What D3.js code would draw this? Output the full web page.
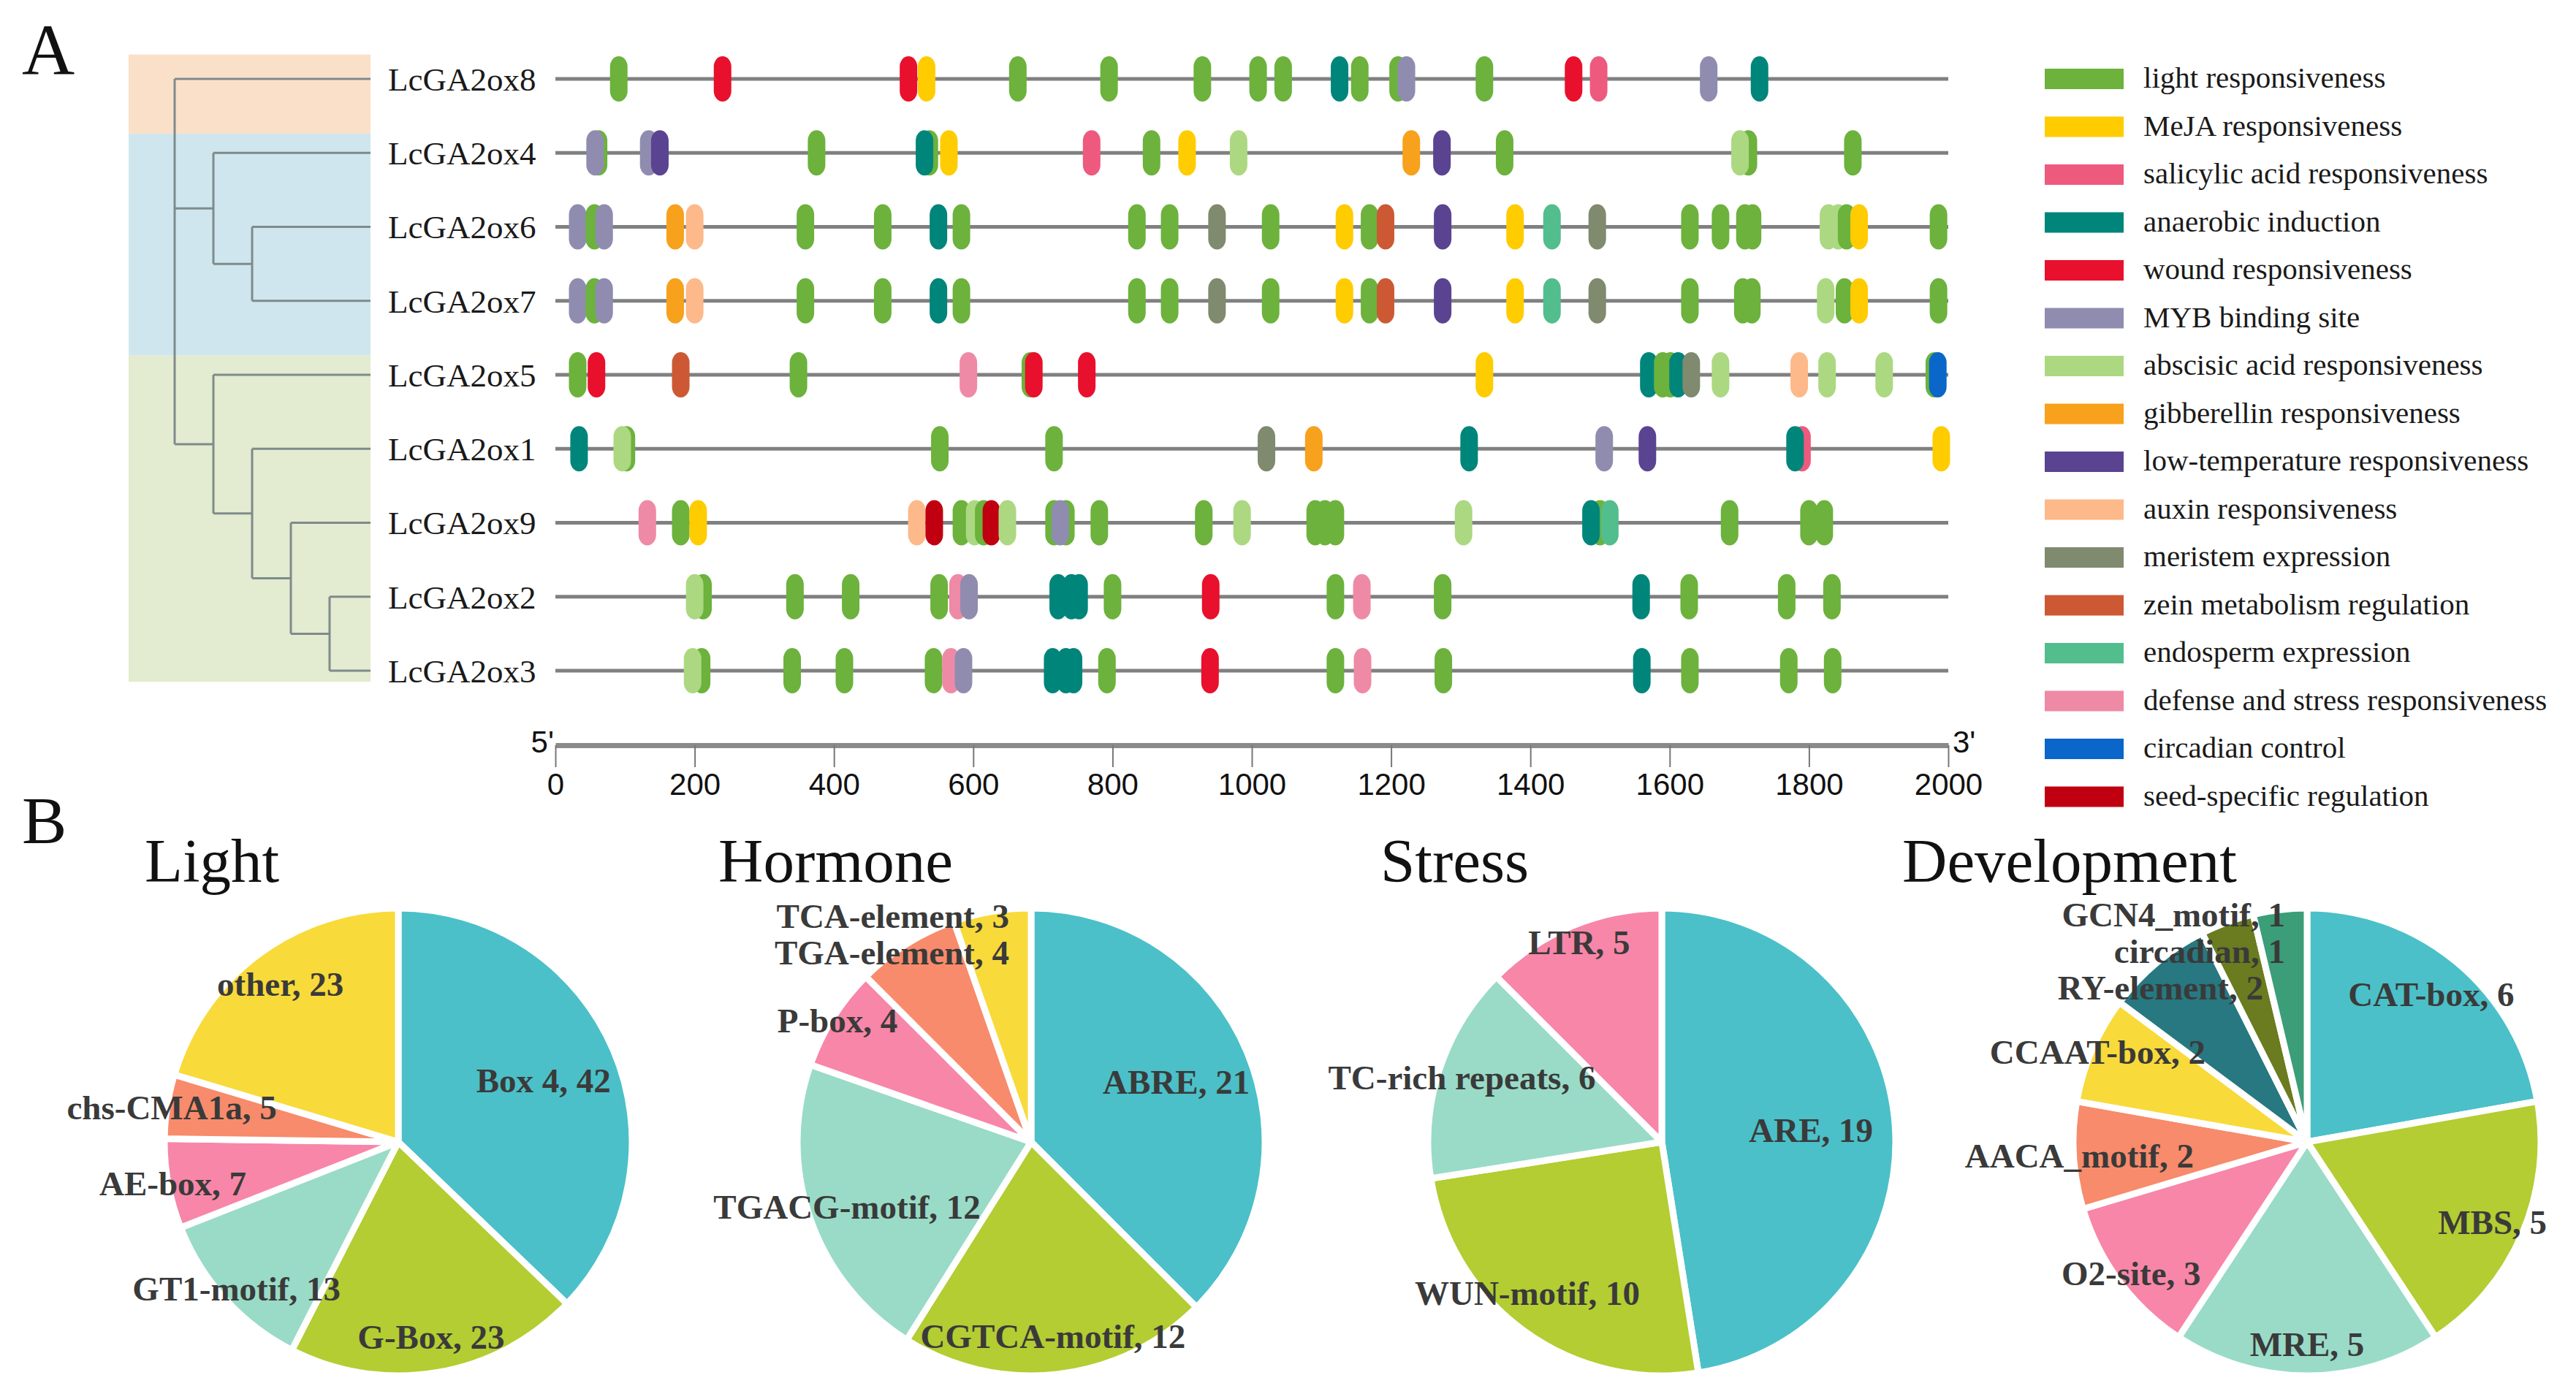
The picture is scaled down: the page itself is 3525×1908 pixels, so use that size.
<!DOCTYPE html>
<html>
<head>
<meta charset="utf-8">
<script src="https://cdn.jsdelivr.net/npm/d3@7/dist/d3.min.js"></script>
<style>
body{margin:0;background:#fff}
</style>
</head>
<body>
<svg id="fig" width="3525" height="1908"></svg>
<script>
// ---- data ----
const genes = ["LcGA2ox8","LcGA2ox4","LcGA2ox6","LcGA2ox7","LcGA2ox5","LcGA2ox1","LcGA2ox9","LcGA2ox2","LcGA2ox3"];
const groups = [["LcGA2ox8","LcGA2ox8"],["LcGA2ox4","LcGA2ox7"],["LcGA2ox5","LcGA2ox3"]];
const groupColors = ["#fbe0c9","#cfe6ee","#e3ebd0"];
const tree = {children:[{name:"LcGA2ox8"},
  {children:[{name:"LcGA2ox4"},{children:[{name:"LcGA2ox6"},{name:"LcGA2ox7"}]}]},
  {children:[{name:"LcGA2ox5"},{children:[{name:"LcGA2ox1"},{children:[{name:"LcGA2ox9"},{children:[{name:"LcGA2ox2"},{name:"LcGA2ox3"}]}]}]}]}]};

const catKeys = ["L","ME","SA","AN","W","MYB","ABA","GA","LT","AUX","MER","ZEIN","ENDO","DEF","CIRC","SEED"];
const catNames = ["light responsiveness","MeJA responsiveness","salicylic acid responsiveness","anaerobic induction",
  "wound responsiveness","MYB binding site","abscisic acid responsiveness","gibberellin responsiveness",
  "low-temperature responsiveness","auxin responsiveness","meristem expression","zein metabolism regulation",
  "endosperm expression","defense and stress responsiveness","circadian control","seed-specific regulation"];
const catColors = ["#6cb23c","#ffcc00","#ee5a7e","#00857b","#e8102c","#8f8cb0","#acd882","#f7a11c",
  "#5a4390","#fdb98a","#7f8a6e","#cc5933","#52bd8d","#ee8aa5","#0a66c8","#c00010"];

// [position (bp), element type] in drawing order
const ga2ox8 = [[91,"L"],[240,"W"],[507,"W"],[533,"ME"],[664,"L"],[795,"L"],[929,"L"],[1009,"L"],[1045,"L"],
  [1126,"AN"],[1155,"L"],[1210,"L"],[1222,"MYB"],[1334,"L"],[1462,"W"],[1498,"SA"],[1656,"MYB"],[1729,"AN"]];
const ga2ox4 = [[62,"L"],[57,"MYB"],[134,"MYB"],[150,"LT"],[375,"L"],[537,"L"],[530,"AN"],[565,"ME"],[770,"SA"],
  [856,"L"],[907,"ME"],[981,"ABA"],[1229,"GA"],[1273,"LT"],[1363,"L"],[1713,"L"],[1701,"ABA"],[1863,"L"]];
const ga2ox6 = [[32,"MYB"],[56,"L"],[70,"MYB"],[172,"GA"],[200,"AUX"],[359,"L"],[470,"L"],[550,"AN"],[583,"L"],
  [835,"L"],[882,"L"],[950,"MER"],[1027,"L"],[1133,"ME"],[1169,"L"],[1192,"ZEIN"],[1274,"LT"],[1378,"ME"],
  [1431,"ENDO"],[1496,"MER"],[1629,"L"],[1673,"L"],[1708,"L"],[1719,"L"],[1828,"ABA"],[1842,"ABA"],[1854,"L"],
  [1872,"ME"],[1986,"L"]];
const ga2ox7 = [[32,"MYB"],[56,"L"],[70,"MYB"],[172,"GA"],[200,"AUX"],[359,"L"],[470,"L"],[550,"AN"],[583,"L"],
  [835,"L"],[882,"L"],[950,"MER"],[1027,"L"],[1133,"ME"],[1169,"L"],[1192,"ZEIN"],[1274,"LT"],[1378,"ME"],
  [1431,"ENDO"],[1496,"MER"],[1629,"L"],[1705,"L"],[1718,"L"],[1824,"ABA"],[1851,"L"],[1872,"ME"],[1986,"L"]];
const ga2ox5 = [[32,"L"],[59,"W"],[180,"ZEIN"],[349,"L"],[593,"DEF"],[682,"L"],[687,"W"],[763,"W"],[1334,"ME"],
  [1570,"AN"],[1590,"L"],[1601,"L"],[1612,"AN"],[1631,"MER"],[1673,"ABA"],[1786,"AUX"],[1826,"ABA"],
  [1908,"ABA"],[1980,"L"],[1985,"CIRC"]];
const ga2ox1 = [[34,"AN"],[102,"L"],[96,"ABA"],[552,"L"],[716,"L"],[1021,"MER"],[1089,"GA"],[1312,"AN"],
  [1506,"MYB"],[1568,"LT"],[1790,"SA"],[1780,"AN"],[1990,"ME"]];
const ga2ox9 = [[132,"DEF"],[180,"L"],[205,"ME"],[519,"AUX"],[544,"SEED"],[583,"L"],[602,"ABA"],[615,"L"],
  [626,"SEED"],[649,"ABA"],[716,"L"],[733,"L"],[725,"MYB"],[781,"L"],[931,"L"],[986,"ABA"],[1091,"L"],
  [1105,"L"],[1120,"L"],[1304,"ABA"],[1500,"L"],[1487,"AN"],[1514,"ENDO"],[1686,"L"],[1800,"L"],[1822,"L"]];
const ga2ox2 = [[212,"L"],[200,"ABA"],[344,"L"],[424,"L"],[551,"L"],[578,"DEF"],[594,"MYB"],[722,"AN"],
  [741,"AN"],[752,"AN"],[800,"L"],[941,"W"],[1120,"L"],[1158,"DEF"],[1274,"L"],[1559,"AN"],[1628,"L"],
  [1768,"L"],[1833,"L"]];
const ga2ox3 = [[210,"L"],[197,"ABA"],[340,"L"],[415,"L"],[543,"L"],[568,"DEF"],[586,"MYB"],[714,"AN"],
  [733,"AN"],[744,"AN"],[792,"L"],[940,"W"],[1120,"L"],[1159,"DEF"],[1275,"L"],[1560,"AN"],[1629,"L"],
  [1771,"L"],[1834,"L"]];
const axisTicks = [0,200,400,600,800,1000,1200,1400,1600,1800,2000];

const pieTitles = ["Light","Hormone","Stress","Development"];
const lightNames = ["Box 4","G-Box","GT1-motif","AE-box","chs-CMA1a","other"];
const lightCounts = [42,23,13,7,5,23];
const hormoneNames = ["ABRE","CGTCA-motif","TGACG-motif","P-box","TGA-element","TCA-element"];
const hormoneCounts = [21,12,12,4,4,3];
const stressNames = ["ARE","WUN-motif","TC-rich repeats","LTR"];
const stressCounts = [19,10,6,5];
const devNames = ["CAT-box","MBS","MRE","O2-site","AACA_motif","CCAAT-box","RY-element","circadian","GCN4_motif"];
const devCounts = [6,5,5,3,2,2,2,1,1];
const pieColors = ["#4bc0c8","#b3cd32","#99dbc7","#f886a8","#f78b6b","#f8da3a","#277880","#6b7b1f","#3b9e78"];

// ---- drawing ----
const serif = "'Liberation Serif','Times New Roman',serif";
const sans = "'Liberation Sans',Arial,sans-serif";
const svg = d3.select("#fig");
svg.append("rect").attr("width",3525).attr("height",1908).attr("fill","#fff");

const motifTable = {LcGA2ox8:ga2ox8,LcGA2ox4:ga2ox4,LcGA2ox6:ga2ox6,LcGA2ox7:ga2ox7,LcGA2ox5:ga2ox5,
  LcGA2ox1:ga2ox1,LcGA2ox9:ga2ox9,LcGA2ox2:ga2ox2,LcGA2ox3:ga2ox3};
const color = d3.scaleOrdinal().domain(catKeys).range(catColors);

const x = d3.scaleLinear().domain([0,2000]).range([760,2666]);
const yRow = d3.scalePoint().domain(genes).range([108,918]);
const step = yRow.step();

svg.append("text").text("A").attr("x",30).attr("y",102)
  .style("font-family",serif).style("font-size","100px").attr("fill","#111");
svg.append("text").text("B").attr("x",30).attr("y",1154)
  .style("font-family",serif).style("font-size","92px").attr("fill","#111");

// clade backgrounds
const treeLeft = 176, leafX = 507;
groups.forEach(function(gr,i){
  const top = yRow(gr[0]) - (i==0 ? 0.33 : 0.26)*step;
  const bot = i<groups.length-1 ? yRow(groups[i+1][0]) - 0.26*step : yRow(gr[1]) + 0.15*step;
  svg.append("rect").attr("x",treeLeft).attr("y",top).attr("width",leafX-treeLeft).attr("height",bot-top)
    .attr("fill",groupColors[i]);
});

// dendrogram
const root = d3.hierarchy(tree);
const xDepth = d3.scaleLinear().domain([0,4]).range([239,451]);
root.eachAfter(function(n){
  if(!n.children){ n.py = yRow(n.data.name); n.px = leafX; }
  else { n.py = (n.children[0].py + n.children[n.children.length-1].py)/2; n.px = xDepth(n.depth); }
});
const tg = svg.append("g").attr("stroke","#7f8b8b").attr("stroke-width",3).attr("fill","none");
root.descendants().filter(n=>n.children).forEach(function(n){
  const c = n.children;
  tg.append("line").attr("x1",n.px).attr("x2",n.px).attr("y1",c[0].py).attr("y2",c[c.length-1].py);
  c.forEach(function(ch){
    tg.append("line").attr("x1",n.px).attr("x2",ch.px).attr("y1",ch.py).attr("y2",ch.py);
  });
});

// gene labels and tracks
svg.selectAll(".glab").data(genes).enter().append("text")
  .attr("x",531).attr("y",d=>yRow(d)).attr("dy","0.35em").text(d=>d)
  .style("font-family",serif).style("font-size","45px").attr("fill","#1a1a1a");
svg.selectAll(".track").data(genes).enter().append("line")
  .attr("x1",x(0)).attr("x2",x(2000)).attr("y1",d=>yRow(d)).attr("y2",d=>yRow(d))
  .attr("stroke","#808080").attr("stroke-width",5);

const mw = 24, mh = 62;
genes.forEach(function(g){
  svg.append("g").selectAll("rect").data(motifTable[g]).enter().append("rect")
    .attr("x",d=>x(d[0])-mw/2).attr("y",yRow(g)-mh/2).attr("width",mw).attr("height",mh)
    .attr("rx",mw/2).attr("ry",mw/2*1.2).attr("fill",d=>color(d[1]));
});

// position axis
const ax = svg.append("g").attr("transform","translate(0,1020)")
  .call(d3.axisBottom(x).tickValues(axisTicks).tickFormat(d3.format("d"))
    .tickSize(30).tickSizeOuter(0).tickPadding(8));
ax.select(".domain").attr("stroke","#8a8a8a").attr("stroke-width",7);
ax.selectAll(".tick line").attr("stroke","#777").attr("stroke-width",2);
ax.selectAll(".tick text").style("font-family",sans).style("font-size","42px").attr("fill","#111");
svg.append("text").text("5'").attr("x",x(0)-2).attr("y",1030).attr("text-anchor","end")
  .style("font-family",sans).style("font-size","42px").attr("fill","#111");
svg.append("text").text("3'").attr("x",x(2000)+6).attr("y",1030)
  .style("font-family",sans).style("font-size","42px").attr("fill","#111");

// legend
const lg = svg.append("g");
catNames.forEach(function(nm,i){
  const cy = 108 + i*65.5;
  lg.append("rect").attr("x",2798).attr("y",cy-14).attr("width",108).attr("height",28).attr("fill",catColors[i]);
  lg.append("text").attr("x",2933).attr("y",cy+12).text(nm)
    .style("font-family",serif).style("font-size","41px").attr("fill","#1a1a1a");
});

// pies
const pieSets = [[lightNames,lightCounts],[hormoneNames,hormoneCounts],[stressNames,stressCounts],[devNames,devCounts]];
const pieCx = [545,1411,2274,3157], titleX = [198,983,1889,2603];
const pieCy = 1563, pr = 320;
const pie = d3.pie().sort(null).value(d=>d.v);
const arc = d3.arc().innerRadius(0).outerRadius(pr);

pieSets.forEach(function(ps,pi){
  const cx = pieCx[pi];
  svg.append("text").text(pieTitles[pi]).attr("x",titleX[pi]).attr("y",1207)
    .style("font-family",serif).style("font-size","85px").attr("fill","#111");
  const rows = ps[0].map((n,i)=>({n:n,v:ps[1][i],c:pieColors[i]}));
  const arcs = pie(rows);
  const g = svg.append("g").attr("transform","translate("+cx+","+pieCy+")");
  g.selectAll("path").data(arcs).enter().append("path").attr("d",arc)
    .attr("fill",d=>d.data.c).attr("stroke","#fff").attr("stroke-width",9).attr("stroke-linejoin","round");

  // labels: along slice middle, smaller slices further out, then pushed down apart
  const labs = arcs.map(function(a){
    const mid = (a.startAngle+a.endAngle)/2;
    const deg = (a.endAngle-a.startAngle)*180/Math.PI;
    const k = Math.max(0.64, Math.min(0.98, 1.05-0.0028*deg));
    const t = svg.append("text").text(a.data.n+", "+a.data.v).attr("text-anchor","middle").attr("dy","0.35em")
      .style("font-family",serif).style("font-size","47px").style("font-weight","bold").attr("fill","#3a3a3a");
    const w = t.node().getComputedTextLength();
    let lx = cx + Math.sin(mid)*pr*k, ly = pieCy - Math.cos(mid)*pr*k;
    if(Math.sin(mid) < 0) lx = Math.min(lx, cx - 30 - w/2);
    return {t:t,w:w,x:lx,y:ly};
  });
  const byY = labs.slice().sort((a,b)=>a.y-b.y);
  for(let i=1;i<byY.length;i++){
    for(let j=0;j<i;j++){
      const a=byY[j], b=byY[i];
      if(Math.abs(a.x-b.x) < (a.w+b.w)/2 && b.y-a.y < 50) b.y = a.y + 50;
    }
  }
  labs.forEach(l=>l.t.attr("x",l.x).attr("y",l.y));
});
</script>
</body>
</html>
